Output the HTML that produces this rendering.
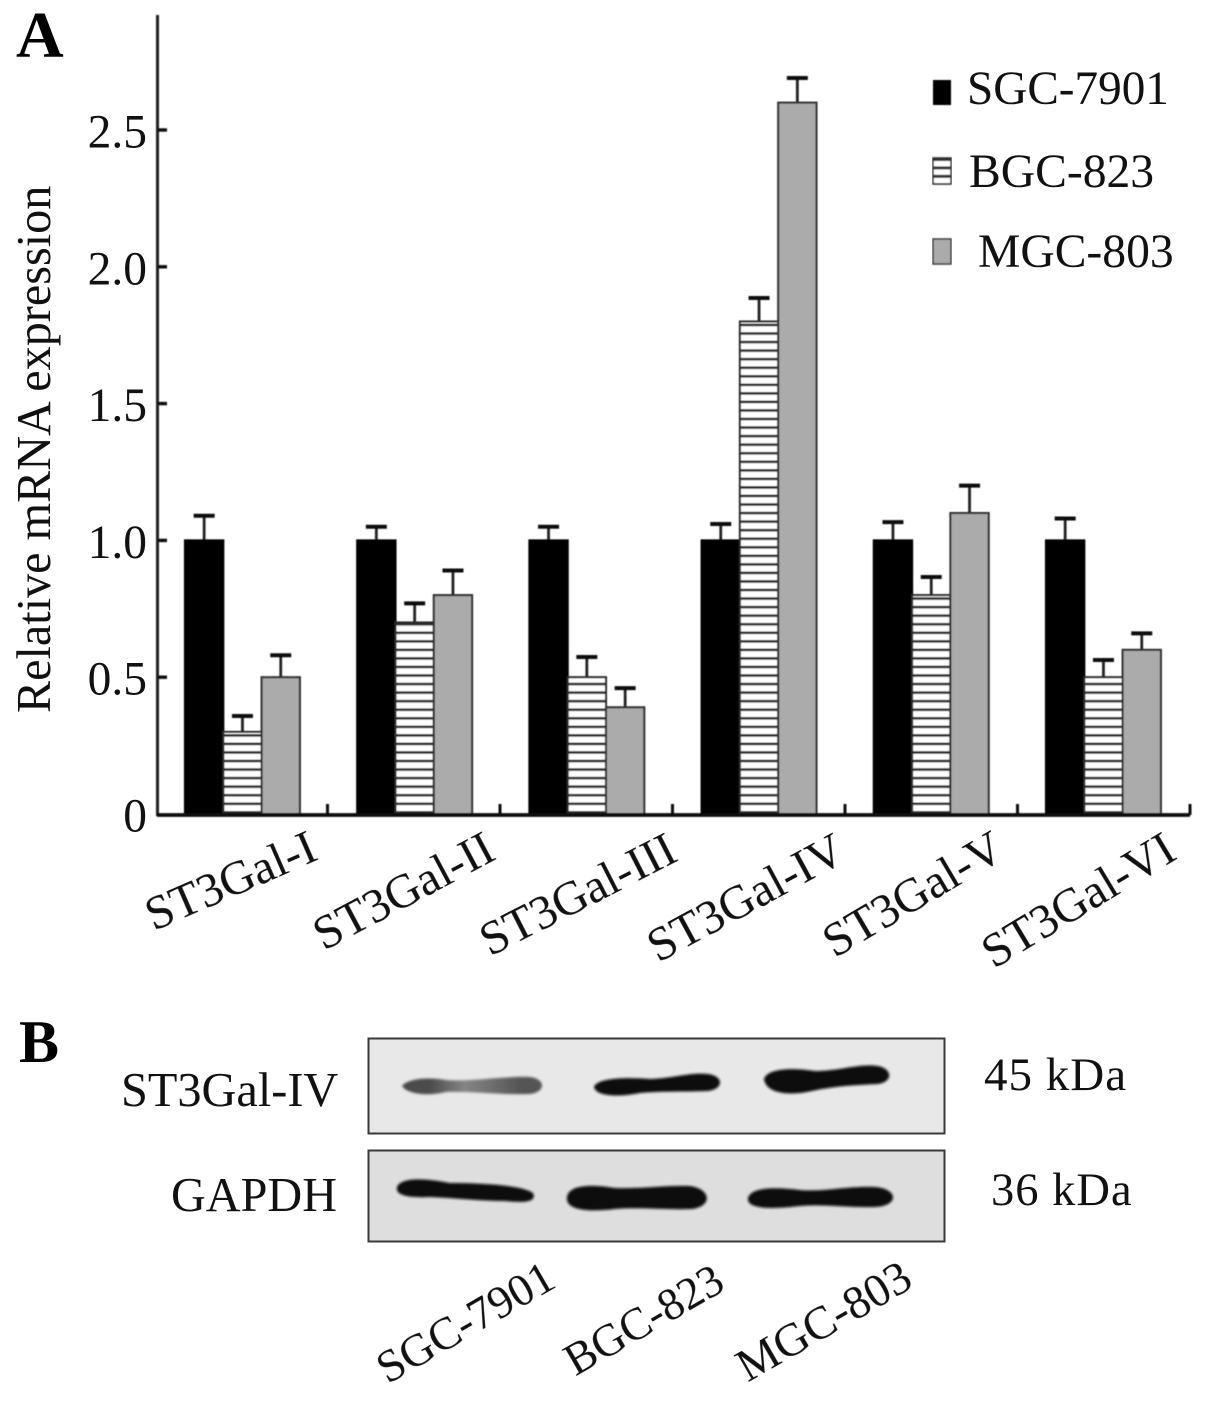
<!DOCTYPE html>
<html lang="en">
<head>
<meta charset="utf-8">
<title>ST3Gal relative mRNA expression and western blot</title>
<style>
html,body{margin:0;padding:0;background:#fff;}
svg{display:block;}
text{font-family:"Liberation Serif",serif;fill:#111;filter:blur(0.35px);}
</style>
</head>
<body>
<svg id="fig" xmlns="http://www.w3.org/2000/svg" width="1205" height="1402" viewBox="0 0 1205 1402">
  <defs>
    <pattern id="hatch" patternUnits="userSpaceOnUse" x="0" y="811" width="10" height="8.55">
      <rect width="10" height="8.55" fill="#fff"/>
      <rect y="0" width="10" height="2.6" fill="#2a2a2a"/>
    </pattern>
    <pattern id="hatch-key" patternUnits="userSpaceOnUse" x="0" y="158" width="10" height="8.4">
      <rect width="10" height="8.4" fill="#fff"/>
      <rect y="0" width="10" height="3" fill="#333"/>
    </pattern>
    <filter id="soft" x="-5%" y="-5%" width="110%" height="110%"><feGaussianBlur stdDeviation="0.45"/></filter>
    <filter id="band-blur" x="-10%" y="-40%" width="120%" height="180%"><feGaussianBlur stdDeviation="1.4"/></filter>
    <linearGradient id="weak-band" x1="0" x2="1" y1="0" y2="0">
      <stop offset="0" stop-color="#4a4a4a"/>
      <stop offset="0.2" stop-color="#4c4c4c"/>
      <stop offset="0.45" stop-color="#858585"/>
      <stop offset="0.85" stop-color="#555"/>
      <stop offset="1" stop-color="#555"/>
    </linearGradient>
  </defs>

  <text x="16" y="57" font-size="66" font-weight="bold" style="fill:#000">A</text>
  <text x="19" y="1062" font-size="60" font-weight="bold" style="fill:#000">B</text>

  <g id="chart"></g>

  <text transform="translate(50,713) rotate(-90)" font-size="48.2">Relative mRNA expression</text>

  <g font-size="48" text-anchor="end">
    <text transform="translate(320,859) rotate(-23.5)">ST3Gal-I</text>
    <text transform="translate(498,858.5) rotate(-28)">ST3Gal-II</text>
    <text transform="translate(680,860) rotate(-27)">ST3Gal-III</text>
    <text transform="translate(848,860) rotate(-28.5)">ST3Gal-IV</text>
    <text transform="translate(1007,857) rotate(-30.5)">ST3Gal-V</text>
    <text transform="translate(1179,858) rotate(-31)">ST3Gal-VI</text>
  </g>

  <g filter="url(#soft)">
    <rect x="933" y="80" width="18" height="25" fill="#000"/>
    <rect x="933" y="158" width="18" height="26" fill="url(#hatch-key)" stroke="#333" stroke-width="1.6"/>
    <rect x="933" y="239" width="18" height="25" fill="#ababab" stroke="#444" stroke-width="1.6"/>
  </g>
  <text x="967" y="104" font-size="47.2">SGC-7901</text>
  <text x="969" y="187" font-size="47.6">BGC-823</text>
  <text x="978" y="267" font-size="47.6">MGC-803</text>

  <g>
    <rect x="368.5" y="1038.5" width="576" height="95" fill="#e8e8e8" stroke="#3a3a3a" stroke-width="2"/>
    <rect x="368.5" y="1150.5" width="576" height="91" fill="#dedede" stroke="#3a3a3a" stroke-width="2"/>
    <g filter="url(#band-blur)">
      <path fill="url(#weak-band)" d="M402 1086C408 1078 430 1077 446 1080C470 1082 500 1076 530 1077C546 1079 546 1092 530 1094C500 1095 470 1091 446 1092C430 1096 408 1095 402 1086Z"/>
      <path fill="#111" d="M594 1087C597 1078 625 1077 650 1079C675 1078 690 1072 708 1074C724 1076 724 1089 708 1091C685 1092 660 1091 640 1093C620 1097 596 1097 594 1087Z"/>
      <path fill="#0c0c0c" d="M764 1079C767 1069 790 1067 815 1071C840 1071 860 1063 878 1066C893 1069 893 1082 878 1084C855 1085 835 1086 812 1091C790 1096 766 1094 764 1079Z"/>
      <path fill="#0d0d0d" d="M397 1187C401 1177 425 1178 450 1183C480 1183 522 1185 533 1193C537 1202 525 1203 505 1201C480 1201 455 1198 430 1197C410 1198 395 1196 397 1187Z"/>
      <path fill="#0d0d0d" d="M567 1197C569 1185 590 1184 615 1188C640 1189 665 1185 690 1186C711 1189 713 1206 692 1209C665 1210 640 1207 615 1209C590 1212 565 1211 567 1197Z"/>
      <path fill="#111" d="M748 1198C751 1187 775 1187 800 1190C825 1192 845 1186 875 1187C899 1189 899 1206 875 1207C850 1208 825 1204 800 1206C775 1209 746 1210 748 1198Z"/>
    </g>
  </g>

  <text x="121" y="1106" font-size="48.3">ST3Gal-IV</text>
  <text x="171" y="1211" font-size="48.2">GAPDH</text>
  <text x="984" y="1090" font-size="47" letter-spacing="1">45 kDa</text>
  <text x="991" y="1205" font-size="46.5" letter-spacing="1">36 kDa</text>
  <text transform="translate(558,1286) rotate(-30)" text-anchor="end" font-size="46">SGC-7901</text>
  <text transform="translate(727,1289) rotate(-30)" text-anchor="end" font-size="45">BGC-823</text>
  <text transform="translate(915,1286) rotate(-30)" text-anchor="end" font-size="47">MGC-803</text>

  <script>
    const categories = ['ST3Gal-I', 'ST3Gal-II', 'ST3Gal-III', 'ST3Gal-IV', 'ST3Gal-V', 'ST3Gal-VI'];
    const yTickValues = [0.5, 1.0, 1.5, 2.0, 2.5];
    const yTickLabels = ['0', '0.5', '1.0', '1.5', '2.0', '2.5'];
    const sgc7901 = [1.0, 1.0, 1.0, 1.0, 1.0, 1.0];
    const bgc823 = [0.3, 0.7, 0.5, 1.8, 0.8, 0.5];
    const mgc803 = [0.5, 0.8, 0.39, 2.6, 1.1, 0.6];
    const sgc7901Err = [0.09, 0.05, 0.05, 0.06, 0.067, 0.08];
    const bgc823Err = [0.058, 0.07, 0.074, 0.086, 0.066, 0.063];
    const mgc803Err = [0.08, 0.09, 0.07, 0.09, 0.10, 0.06];

    const NS = 'http://www.w3.org/2000/svg';
    const chart = document.getElementById('chart');
    const y = function (v) { return 814 - v * 273.6; };
    const groupX = function (i) { return 185 + i * 172.2; };
    const BAR_W = 38.3;

    function mk(tag, attrs, parent) {
      const el = document.createElementNS(NS, tag);
      for (const k in attrs) el.setAttribute(k, attrs[k]);
      (parent || chart).appendChild(el);
      return el;
    }

    const seriesList = [
      { key: 'sgc-7901', values: sgc7901, errs: sgc7901Err, fill: '#000', stroke: '#000' },
      { key: 'bgc-823', values: bgc823, errs: bgc823Err, fill: 'url(#hatch)', stroke: '#2a2a2a' },
      { key: 'mgc-803', values: mgc803, errs: mgc803Err, fill: '#ababab', stroke: '#333' }
    ];

    const marks = mk('g', { filter: 'url(#soft)' });
    
    

    seriesList.forEach(function (s, si) {
      s.values.forEach(function (v, i) {
        const x = groupX(i) + si * BAR_W;
        const top = y(v);
        const errTop = y(v + s.errs[i]);
        const cx = x + BAR_W / 2;

        const stem = mk('line', { x1: cx, x2: cx, y1: top, y2: errTop, stroke: '#222', 'stroke-width': 2.8 }, marks);
        
        

        const cap = mk('line', { x1: cx - 10.5, x2: cx + 10.5, y1: errTop, y2: errTop, stroke: '#111', 'stroke-width': 4 }, marks);
        
        

        const bar = mk('rect', { x: x, y: top, width: BAR_W, height: y(0) - top, fill: s.fill, stroke: s.stroke, 'stroke-width': 2.1 }, marks);
        
        
      });
    });

    const yAxis = mk('line', { x1: 157.5, x2: 157.5, y1: 15, y2: 816, stroke: '#222', 'stroke-width': 3 }, marks);
    
    

    const xAxis = mk('line', { x1: 157, x2: 1190, y1: 815, y2: 815, stroke: '#111', 'stroke-width': 3.8 }, marks);
    
    

    yTickValues.forEach(function (v) {
      const t = mk('line', { x1: 158, x2: 167, y1: y(v), y2: y(v), stroke: '#111', 'stroke-width': 3.4 }, marks);
      
      
    });

    categories.forEach(function (c, i) {
      const tx = 327.5 + i * 172.5;
      const t = mk('line', { x1: tx, x2: tx, y1: 815, y2: 804, stroke: '#111', 'stroke-width': 3 }, marks);
      
      
    });

    yTickLabels.forEach(function (txt, i) {
      const label = mk('text', { x: 147, y: y(i * 0.5) + 17.5, 'text-anchor': 'end', 'font-size': 47.5 });
      label.textContent = txt;
      
      
    });
  </script>
</svg>
</body>
</html>
